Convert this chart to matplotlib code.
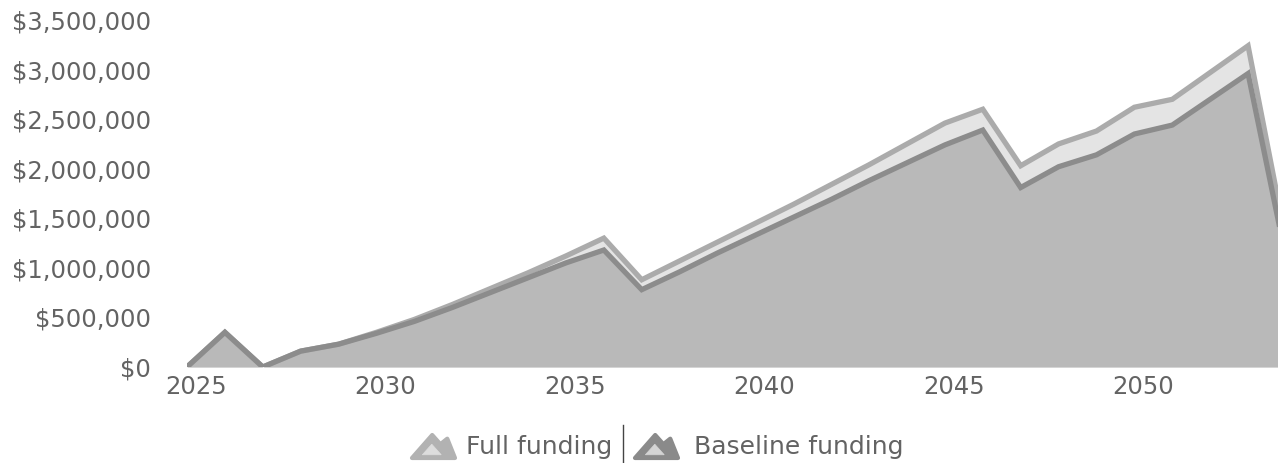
import matplotlib.pyplot as plt
import matplotlib.transforms as mtransforms
import numpy as np
from matplotlib.patches import Polygon
from matplotlib.lines import Line2D
from matplotlib.ticker import FuncFormatter

plt.rcParams['font.family'] = ['DejaVu Sans']

# funding projections, millions of dollars
years = list(range(2025, 2055))
baseline = [0.0, 0.35, 0.0, 0.16, 0.23, 0.34, 0.46, 0.60, 0.75, 0.90,
            1.05, 1.18, 0.78, 0.96, 1.15, 1.33, 1.51, 1.69, 1.88, 2.06,
            2.24, 2.39, 1.81, 2.02, 2.14, 2.35, 2.44, 2.70, 2.96, 1.10]
full = [0.0, 0.35, 0.0, 0.16, 0.23, 0.35, 0.48, 0.63, 0.79, 0.95,
        1.12, 1.30, 0.88, 1.07, 1.26, 1.45, 1.64, 1.84, 2.04, 2.25,
        2.46, 2.60, 2.03, 2.25, 2.38, 2.62, 2.70, 2.97, 3.24, 1.28]
series_names = ['Full funding', 'Baseline funding']
x_ticks = [2025, 2030, 2035, 2040, 2045, 2050]
y_ticks = [0, 500000, 1000000, 1500000, 2000000, 2500000, 3000000, 3500000]

yrs = np.array(years)
base_usd = np.array(baseline) * 1e6
full_usd = np.array(full) * 1e6

txt_col = '#636363'
full_line, full_fill = '#ababab', '#e4e4e4'
base_line, base_fill = '#8c8c8c', '#b9b9b9'

fig = plt.figure(figsize=(12.78, 4.63), dpi=100)
ax = fig.add_axes([187/1278, 1-367/463, 1-187/1278, (367-20)/463])

ax.fill_between(yrs, 0, full_usd, color=full_fill, lw=0)
ax.plot(yrs, full_usd, color=full_line, lw=3.8, solid_joinstyle='miter')
ax.fill_between(yrs, 0, base_usd, color=base_fill, lw=0)
ax.plot(yrs, base_usd, color=base_line, lw=3.8, solid_joinstyle='miter')

ax.set_xlim(2025, 2053.79)
ax.set_ylim(0, 3500000)
ax.set_xticks(x_ticks)
ax.set_yticks(y_ticks)
ax.yaxis.set_major_formatter(FuncFormatter(lambda v, p: '${:,.0f}'.format(v)))
ax.tick_params(axis='both', length=0, labelsize=17.5, labelcolor=txt_col)
ax.tick_params(axis='y', pad=26)
ax.tick_params(axis='x', pad=6)
# year labels sit a little right of their ticks
shift = mtransforms.ScaledTranslation(9/100, 0, fig.dpi_scale_trans)
for lab in ax.get_xticklabels():
    lab.set_transform(lab.get_transform() + shift)
for s in ax.spines.values():
    s.set_visible(False)


def mountain(x0, y0, outer, inner):
    # little mountain glyph, pixel coords of the lower-left corner
    w, h = 43, 23
    pts = [(0, 0), (0.47, 1.0), (0.66, 0.60), (0.82, 0.84), (1.0, 0)]
    shape = Polygon([(x0 + px*w, y0 + py*h) for px, py in pts], closed=True,
                    transform=None, facecolor=outer, edgecolor=outer,
                    lw=3.0, joinstyle='round')
    core = [(0.24, 0.14), (0.46, 0.60), (0.68, 0.14)]
    inner_p = Polygon([(x0 + px*w, y0 + py*h) for px, py in core], closed=True,
                      transform=None, facecolor=inner, edgecolor=inner, lw=0.5)
    fig.patches.extend([shape, inner_p])


H = 463
mountain(412, H - 458, '#b2b2b2', '#dddddd')
fig.text(466/1278, 1-447/H, series_names[0], fontsize=18, color=txt_col,
         va='center', ha='left')
fig.add_artist(Line2D([623/1278, 623/1278], [1-425/H, 1-462/H],
                      color='#444444', lw=1.0))
mountain(635, H - 458, '#8a8a8a', '#d4d4d4')
fig.text(694/1278, 1-447/H, series_names[1], fontsize=18, color=txt_col,
         va='center', ha='left')

fig.savefig('out.png', dpi=100)
